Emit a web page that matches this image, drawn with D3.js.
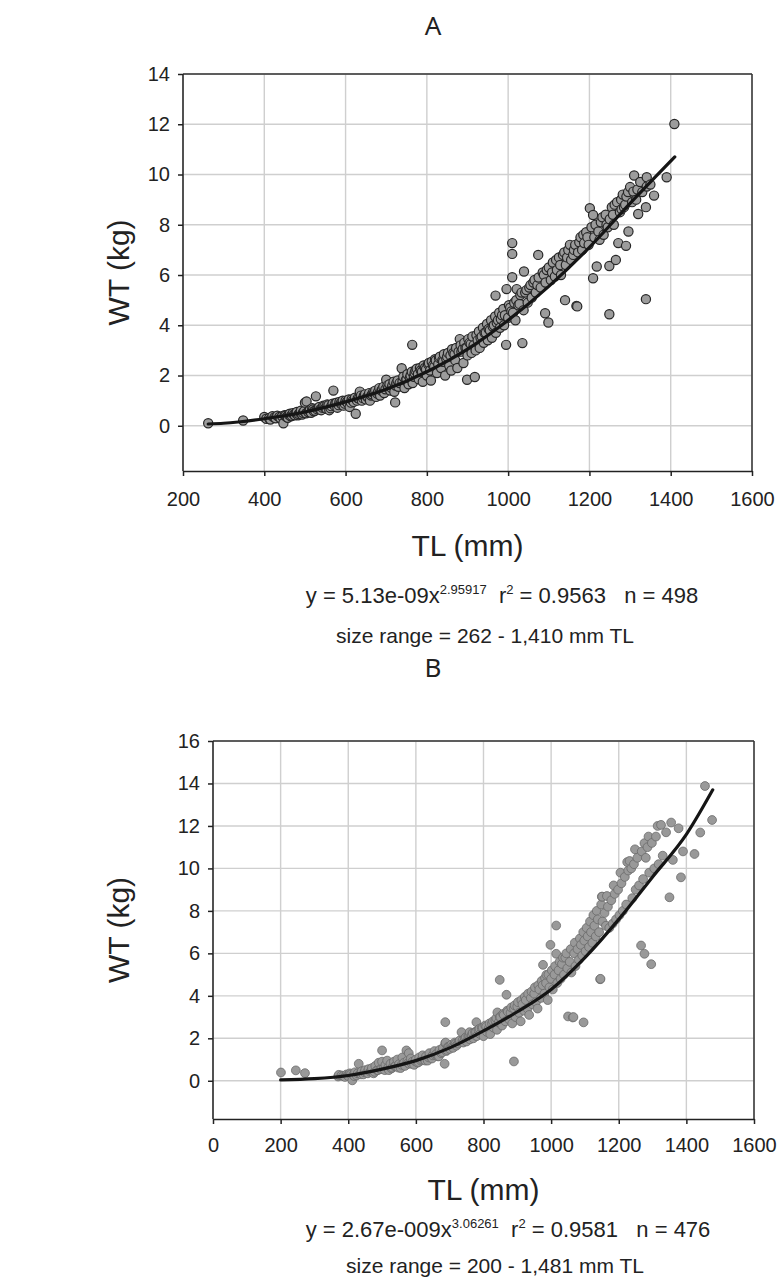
<!DOCTYPE html>
<html>
<head>
<meta charset="utf-8">
<script src="https://cdn.jsdelivr.net/npm/d3@7"></script>
<style>
  body { margin: 0; background: #fff; }
  svg { display: block; }
  .tick text { font-family: "Liberation Sans", Arial, sans-serif; font-size: 20px; fill: #222; }
  .lbl { font-family: "Liberation Sans", Arial, sans-serif; fill: #222; }
  .ttl { font-family: "Noto Sans", "Open Sans", sans-serif; font-size: 26px; fill: #222; }
</style>
</head>
<body>
<svg width="780" height="1284"></svg>
<script>
var width = 780;
var height = 1284;

// panel A : [TL (mm), WT (kg)]
var ptsA = [[262,0.1],[348,0.21],[400,0.35],[405,0.28],[412,0.3],[415,0.25],[420,0.38],[425,0.33],[428,0.3],[432,0.4],[437,0.35],[440,0.3],[444,0.38],[447,0.1],[450,0.42],[452,0.4],[455,0.35],[458,0.32],[460,0.45],[463,0.48],[465,0.38],[468,0.4],[470,0.5],[473,0.45],[475,0.42],[478,0.5],[480,0.55],[483,0.42],[485,0.47],[488,0.52],[490,0.6],[493,0.45],[495,0.52],[498,0.58],[500,0.92],[503,0.5],[504,0.97],[508,0.55],[510,0.6],[512,0.62],[515,0.52],[518,0.7],[520,0.65],[522,0.58],[525,0.6],[527,1.17],[530,0.66],[533,0.7],[535,0.75],[538,0.65],[540,0.62],[543,0.72],[545,0.8],[548,0.78],[550,0.7],[553,0.68],[555,0.85],[558,0.82],[560,0.62],[563,0.7],[565,0.78],[568,0.88],[570,1.4],[573,0.8],[575,0.9],[578,0.92],[580,0.72],[583,0.82],[585,0.95],[588,0.9],[590,0.85],[593,1.0],[595,0.8],[598,0.88],[600,1.0],[603,0.95],[605,0.9],[608,1.05],[610,0.75],[613,0.92],[615,1.05],[618,1.0],[620,0.95],[623,1.12],[625,0.48],[628,1.0],[630,1.1],[633,1.08],[635,1.36],[638,1.2],[640,1.0],[643,1.1],[645,1.2],[648,1.25],[650,1.05],[653,1.15],[655,1.15],[658,1.3],[660,1.0],[663,1.2],[665,1.25],[668,1.35],[670,1.3],[673,1.4],[675,1.15],[678,1.28],[680,1.35],[683,1.5],[685,1.2],[688,1.4],[690,1.45],[693,1.55],[695,1.3],[698,1.45],[700,1.83],[703,1.6],[705,1.5],[708,1.65],[710,1.4],[713,1.5],[715,1.6],[718,1.75],[720,1.35],[722,0.93],[723,1.6],[725,1.7],[728,1.8],[730,1.55],[733,1.7],[738,2.29],[740,1.75],[742,1.95],[745,1.5],[748,1.8],[750,1.85],[752,2.05],[755,1.65],[758,1.9],[760,2.0],[763,2.15],[764,3.22],[765,1.7],[768,1.95],[770,2.1],[772,2.2],[775,2.27],[778,2.05],[780,1.85],[783,2.3],[785,2.2],[788,2.15],[790,1.75],[792,2.4],[795,2.3],[798,2.25],[800,2.0],[803,2.45],[805,2.5],[808,2.2],[810,1.8],[812,2.55],[815,2.4],[818,2.35],[820,2.65],[822,2.6],[825,2.1],[828,2.45],[830,2.7],[832,2.75],[835,2.3],[838,2.6],[840,2.55],[842,2.85],[845,2.0],[848,2.65],[850,2.75],[852,2.9],[855,2.4],[858,2.8],[860,2.2],[862,3.05],[865,2.9],[868,2.85],[870,2.6],[872,3.1],[875,2.3],[878,2.95],[881,3.45],[883,3.2],[885,2.95],[888,3.05],[890,2.5],[892,3.3],[895,3.1],[898,3.1],[899,1.83],[900,2.8],[902,3.45],[905,3.3],[908,3.25],[910,2.9],[912,3.55],[915,3.2],[918,1.94],[920,3.0],[922,3.6],[925,3.4],[928,3.75],[930,3.1],[932,3.5],[935,3.55],[938,3.9],[940,3.3],[942,3.7],[945,3.7],[948,4.05],[950,3.4],[952,3.85],[955,3.8],[958,4.2],[960,3.5],[962,3.95],[965,4.0],[968,4.35],[969,5.18],[970,3.7],[972,4.1],[975,4.2],[978,4.5],[980,3.9],[982,4.25],[985,4.4],[988,4.65],[990,4.0],[992,4.4],[995,3.22],[996,5.44],[1000,4.3],[1002,4.8],[1005,4.7],[1008,4.55],[1010,7.27],[1010,6.84],[1010,5.91],[1012,4.5],[1015,4.9],[1018,4.2],[1020,5.0],[1021,5.44],[1025,4.8],[1028,4.85],[1030,5.2],[1033,5.3],[1035,3.29],[1038,4.6],[1039,6.14],[1042,5.3],[1045,5.4],[1048,4.9],[1052,5.5],[1055,5.6],[1058,5.1],[1062,5.7],[1065,5.8],[1068,5.3],[1072,5.6],[1074,6.8],[1075,5.9],[1080,5.5],[1085,6.1],[1088,6.0],[1091,4.48],[1092,5.7],[1095,6.2],[1099,4.11],[1100,6.3],[1105,5.8],[1108,6.1],[1110,6.5],[1115,5.94],[1118,6.6],[1120,6.2],[1125,6.7],[1128,6.4],[1130,6.0],[1135,6.8],[1138,6.9],[1140,5.0],[1142,6.4],[1145,6.7],[1148,7.0],[1152,7.2],[1155,6.6],[1160,6.8],[1162,7.0],[1165,7.2],[1168,4.77],[1170,4.75],[1172,6.9],[1175,7.3],[1178,7.5],[1182,7.0],[1185,7.6],[1187,7.27],[1192,7.7],[1195,7.5],[1198,7.2],[1201,8.66],[1205,7.9],[1209,8.39],[1209,5.87],[1212,7.5],[1215,8.0],[1218,6.34],[1222,7.73],[1225,7.4],[1228,8.1],[1232,8.3],[1235,7.6],[1240,8.4],[1242,8.0],[1245,7.9],[1249,6.36],[1249,4.44],[1250,8.22],[1255,8.7],[1258,8.4],[1260,8.0],[1262,8.8],[1265,6.6],[1268,8.9],[1271,7.27],[1275,8.5],[1278,9.0],[1279,8.62],[1282,9.2],[1285,8.7],[1288,8.8],[1290,7.16],[1291,9.12],[1295,9.3],[1296,7.73],[1300,9.5],[1305,8.9],[1308,9.32],[1310,9.96],[1315,9.0],[1318,9.4],[1320,8.43],[1325,9.7],[1330,9.3],[1339,8.7],[1339,5.04],[1341,9.89],[1341,9.52],[1350,9.6],[1359,9.16],[1390,9.89],[1409,12.01]];
// fitted power curve A
var fitA = [[262,0.07],[300,0.1],[400,0.28],[500,0.55],[600,0.95],[700,1.45],[800,2.15],[900,3.05],[1000,4.2],[1100,5.55],[1200,7.1],[1300,8.85],[1410,10.7]];

// panel B : [TL (mm), WT (kg)]
var ptsB = [[201,0.39],[245,0.49],[272,0.36],[370,0.2],[372,0.28],[380,0.25],[385,0.22],[390,0.18],[395,0.3],[398,0.26],[400,0.22],[405,0.35],[408,0.3],[412,0.02],[415,0.28],[418,0.22],[420,0.4],[425,0.25],[428,0.35],[431,0.8],[435,0.33],[438,0.3],[440,0.45],[445,0.3],[448,0.4],[450,0.5],[455,0.38],[458,0.35],[460,0.55],[465,0.42],[468,0.45],[470,0.6],[475,0.35],[478,0.42],[480,0.7],[485,0.5],[488,0.5],[490,0.85],[495,0.55],[498,0.55],[500,1.43],[500,0.9],[505,0.6],[508,0.5],[510,0.75],[515,0.95],[518,0.62],[520,0.5],[525,0.8],[528,0.58],[530,0.62],[535,0.9],[538,0.68],[540,0.7],[545,1.0],[548,0.62],[550,0.78],[555,0.6],[558,0.75],[560,1.1],[565,0.85],[568,0.7],[572,1.43],[575,0.95],[578,0.85],[579,1.3],[580,0.8],[585,1.05],[588,0.8],[590,0.9],[595,0.75],[598,0.92],[600,1.0],[605,0.85],[608,0.88],[610,1.1],[615,0.95],[618,1.0],[620,1.2],[625,1.0],[628,0.95],[630,1.15],[635,0.95],[638,1.1],[640,1.3],[645,1.1],[648,1.05],[650,1.2],[655,1.4],[658,1.2],[660,1.25],[665,1.15],[668,1.15],[670,1.45],[675,1.3],[678,1.35],[680,1.55],[685,0.8],[687,2.76],[687,1.77],[688,1.8],[690,1.4],[692,1.45],[695,1.6],[698,1.6],[700,1.5],[705,1.7],[708,1.6],[710,1.55],[715,1.8],[718,1.75],[720,1.65],[725,1.75],[728,1.85],[730,1.9],[735,2.29],[738,1.9],[740,1.8],[745,2.0],[748,2.05],[750,1.85],[755,2.1],[758,2.1],[759,2.29],[760,1.95],[765,2.15],[768,2.25],[770,2.0],[775,2.3],[778,2.3],[779,2.76],[780,2.1],[785,2.4],[788,2.45],[790,2.2],[795,2.5],[798,2.5],[800,2.1],[805,2.6],[808,2.55],[810,2.3],[815,2.45],[818,2.7],[820,2.2],[825,2.7],[828,2.8],[830,2.5],[835,2.85],[838,2.95],[840,2.4],[841,3.22],[845,2.75],[848,4.75],[848,3.0],[850,3.0],[855,2.6],[858,3.15],[860,3.1],[865,2.8],[868,4.05],[870,3.3],[872,3.25],[875,2.9],[880,3.2],[882,3.45],[885,2.7],[890,0.91],[890,3.4],[892,3.55],[895,3.0],[900,3.5],[902,3.7],[905,3.2],[910,2.8],[912,3.8],[915,3.6],[920,3.3],[922,3.95],[925,3.8],[930,3.4],[932,4.1],[935,3.1],[940,3.9],[942,4.2],[945,3.6],[950,4.1],[952,4.4],[955,3.7],[960,3.4],[962,4.5],[965,4.3],[970,3.9],[972,4.7],[975,4.5],[976,5.46],[980,4.1],[982,4.85],[985,4.6],[986,4.99],[990,3.8],[992,5.0],[995,4.4],[998,6.4],[1000,4.8],[1002,5.2],[1005,4.3],[1010,5.0],[1012,5.4],[1015,7.31],[1015,5.98],[1018,4.6],[1022,5.2],[1025,5.6],[1028,4.8],[1032,5.5],[1035,5.8],[1038,5.0],[1042,5.8],[1045,6.0],[1048,5.3],[1050,3.03],[1055,5.6],[1058,6.2],[1060,5.1],[1064,2.98],[1066,3.0],[1068,6.0],[1070,6.5],[1072,5.4],[1078,6.2],[1082,5.7],[1085,6.7],[1088,6.4],[1092,5.9],[1095,7.0],[1096,2.75],[1098,6.6],[1102,6.1],[1105,7.2],[1108,6.8],[1112,6.3],[1115,7.5],[1118,7.0],[1122,6.5],[1125,7.8],[1128,7.3],[1132,6.8],[1135,8.0],[1138,7.6],[1142,7.0],[1145,4.78],[1146,4.8],[1148,8.3],[1150,8.67],[1151,8.67],[1152,7.5],[1158,7.9],[1162,7.3],[1165,8.7],[1168,8.2],[1172,7.2],[1178,8.5],[1182,7.4],[1185,9.2],[1188,8.8],[1192,7.6],[1198,9.0],[1202,7.8],[1205,9.8],[1208,9.3],[1212,8.0],[1218,9.6],[1222,8.3],[1225,10.3],[1228,9.9],[1232,10.35],[1237,10.0],[1240,8.6],[1245,10.2],[1248,10.9],[1250,9.0],[1255,10.5],[1260,9.2],[1266,6.37],[1268,10.8],[1272,9.5],[1276,11.19],[1276,5.98],[1280,10.5],[1285,11.0],[1288,11.5],[1290,9.8],[1296,5.49],[1298,11.2],[1305,10.0],[1310,11.5],[1315,12.0],[1318,10.2],[1325,12.05],[1330,10.6],[1340,11.7],[1350,8.64],[1355,12.16],[1360,10.4],[1377,11.89],[1384,9.58],[1390,10.8],[1424,10.68],[1441,11.69],[1455,13.88],[1476,12.28]];
var fitB = [[200,0.04],[300,0.1],[400,0.25],[500,0.55],[600,0.95],[700,1.55],[800,2.35],[900,3.25],[1000,4.3],[1100,5.8],[1200,7.6],[1300,9.6],[1400,11.6],[1478,13.7]];

var xTicksA = [200,400,600,800,1000,1200,1400,1600];
var yTicksA = [0,2,4,6,8,10,12,14];
var xTicksB = [0,200,400,600,800,1000,1200,1400,1600];
var yTicksB = [0,2,4,6,8,10,12,14,16];

var svg = d3.select("svg");

function drawPanel(p) {
    var x = d3.scaleLinear().domain(p.xDom).range(p.xRange);
    var y = d3.scaleLinear().domain(p.yDom).range(p.yRange);
    var g = svg.append("g");

    // grid
    g.selectAll(".vg").data(p.xTicks).enter().append("line")
        .attr("x1", d => x(d)).attr("x2", d => x(d))
        .attr("y1", p.yRange[0]).attr("y2", p.yRange[1])
        .attr("stroke", "#cfcfcf").attr("stroke-width", 1.4);
    g.selectAll(".hg").data(p.yTicks).enter().append("line")
        .attr("x1", p.xRange[0]).attr("x2", p.xRange[1])
        .attr("y1", d => y(d)).attr("y2", d => y(d))
        .attr("stroke", "#cfcfcf").attr("stroke-width", 1.4);

    // frame top / right
    g.append("line").attr("x1", p.xRange[0]).attr("x2", p.xRange[1])
        .attr("y1", p.yRange[1]).attr("y2", p.yRange[1])
        .attr("stroke", "#333").attr("stroke-width", 1.5);
    g.append("line").attr("x1", p.xRange[1]).attr("x2", p.xRange[1])
        .attr("y1", p.yRange[0]).attr("y2", p.yRange[1])
        .attr("stroke", "#333").attr("stroke-width", 1.5);

    var xAxis = d3.axisBottom(x).tickValues(p.xTicks).tickFormat(d3.format("d"))
        .tickSizeInner(5).tickSizeOuter(0).tickPadding(p.xPad);
    var yAxis = d3.axisLeft(y).tickValues(p.yTicks).tickFormat(d3.format("d"))
        .tickSizeInner(5).tickSizeOuter(0).tickPadding(8);
    var gx = g.append("g").attr("transform", `translate(0,${p.yRange[0]})`).call(xAxis);
    var gy = g.append("g").attr("transform", `translate(${p.xRange[0]},0)`).call(yAxis);
    gy.select(".domain").attr("d", `M0,${p.yRange[0]}V${p.yRange[1]}`);
    [gx, gy].forEach(a => {
        a.selectAll(".domain, .tick line").attr("stroke", "#222").attr("stroke-width", 1.5);
    });

    // points
    g.selectAll(".pt").data(p.pts).enter().append("circle")
        .attr("cx", d => x(d[0])).attr("cy", d => y(d[1]))
        .attr("r", p.r)
        .attr("fill", p.fill).attr("stroke", p.stroke).attr("stroke-width", p.sw);

    // fitted curve
    var line = d3.line().x(d => x(d[0])).y(d => y(d[1])).curve(d3.curveMonotoneX);
    g.append("path").datum(p.fit)
        .attr("d", line).attr("fill", "none")
        .attr("stroke", "#151515").attr("stroke-width", 3.2).attr("stroke-linecap", "round");

    // titles and labels
    var midX = (p.xRange[0] + p.xRange[1]) / 2;
    var midY = (p.yRange[0] + p.yRange[1]) / 2;
    svg.append("text").attr("class", "ttl").attr("x", 433).attr("y", p.titleY)
        .attr("text-anchor", "middle").text(p.title);
    svg.append("text").attr("class", "lbl").attr("font-size", 30)
        .attr("transform", `translate(118,${midY}) rotate(-90)`)
        .attr("text-anchor", "middle").attr("dy", "0.35em").text("WT (kg)");
    svg.append("text").attr("class", "lbl").attr("font-size", 30)
        .attr("x", midX).attr("y", p.xLabY).attr("text-anchor", "middle").text("TL (mm)");

    var eq = svg.append("text").attr("class", "lbl").attr("font-size", 22)
        .attr("x", p.eqX).attr("y", p.eqY).attr("text-anchor", "middle");
    eq.append("tspan").text(p.eq[0]);
    eq.append("tspan").attr("font-size", 13).attr("dy", -9).text(p.eq[1]);
    eq.append("tspan").attr("dy", 9).text("\u00a0\u00a0r");
    eq.append("tspan").attr("font-size", 13).attr("dy", -9).text("2");
    eq.append("tspan").attr("dy", 9).text(p.eq[2]);

    svg.append("text").attr("class", "lbl").attr("font-size", 21)
        .attr("x", p.rangeX).attr("y", p.rangeY).attr("text-anchor", "middle").text(p.range);
}

drawPanel({
    title: "A", titleY: 35,
    pts: ptsA, fit: fitA,
    xDom: [200, 1600], xRange: [183, 752],
    yDom: [-1.8, 14], yRange: [471, 74],
    xTicks: xTicksA, yTicks: yTicksA, xPad: 16,
    r: 4.6, fill: "#9c9c9c", stroke: "#262626", sw: 1.2,
    xLabY: 556,
    eq: ["y = 5.13e-09x", "2.95917", " = 0.9563\u00a0\u00a0\u00a0n = 498"], eqX: 502, eqY: 603,
    range: "size range = 262 - 1,410 mm TL", rangeX: 485, rangeY: 643
});

drawPanel({
    title: "B", titleY: 677,
    pts: ptsB, fit: fitB,
    xDom: [0, 1600], xRange: [213, 754],
    yDom: [-1.8, 16], yRange: [1119, 741],
    xTicks: xTicksB, yTicks: yTicksB, xPad: 14,
    r: 4.4, fill: "#999", stroke: "#6a6a6a", sw: 0.8,
    xLabY: 1200,
    eq: ["y = 2.67e-009x", "3.06261", " = 0.9581\u00a0\u00a0\u00a0n = 476"], eqX: 508, eqY: 1237,
    range: "size range = 200 - 1,481 mm TL", rangeX: 495, rangeY: 1273
});
</script>
</body>
</html>
